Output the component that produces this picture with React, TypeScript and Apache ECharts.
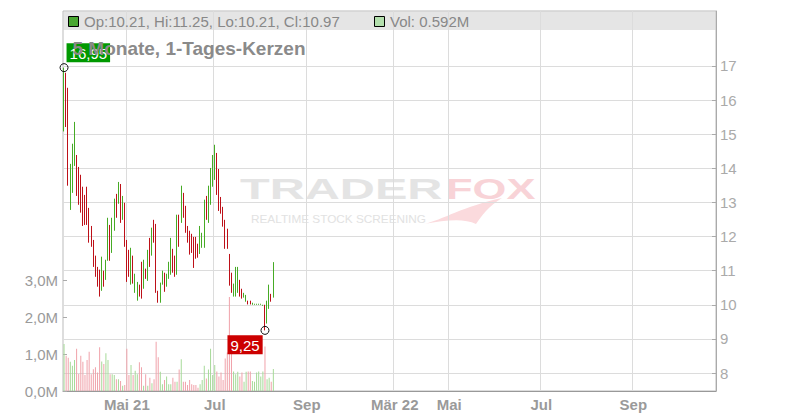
import React, { useEffect, useRef } from 'react';
import * as echarts from 'echarts';

// ---- data ----
const priceOpen = [
  15.30, 16.60, 16.10, 13.00, 13.50, 14.25, 14.25, 13.90, 13.70, 13.35,
  13.10, 13.30, 12.70, 12.20, 11.80, 11.35, 11.00, 10.95, 10.55, 10.90,
  10.80, 11.40, 12.25, 11.60, 12.25, 13.15, 13.05, 13.45, 12.55, 12.90,
  11.80, 11.50, 10.70, 11.35, 10.45, 10.20, 10.55, 11.15, 10.55, 11.00,
  10.80, 11.85, 11.55, 12.40, 12.25, 10.35, 10.15, 10.65, 10.90, 10.60,
  10.80, 10.95, 11.55, 11.35, 11.00, 12.55, 12.50, 13.20, 12.80, 12.25,
  12.10, 12.00, 11.90, 11.90, 11.75, 11.55, 11.75, 11.80, 13.10, 12.50,
  13.00, 13.55, 13.75, 14.35, 13.90, 13.10, 12.80, 12.40, 12.15, 11.40,
  10.85, 10.30, 10.30, 10.40, 10.65, 10.45, 10.22, 10.12, 10.10, 10.10,
  10.01, 10.00, 10.00, 10.00, 10.00, 9.98, 9.98, 9.50, 9.95, 10.30, 10.21,
];
const priceClose = [
  16.70, 15.40, 13.80, 13.95, 14.55, 15.20, 13.35, 13.05, 12.85, 12.45,
  12.45, 12.50, 11.95, 11.80, 11.20, 10.90, 10.60, 10.35, 11.30, 10.60,
  11.25, 12.45, 11.40, 12.45, 13.00, 12.65, 13.50, 12.50, 13.10, 11.80,
  10.80, 10.90, 11.55, 10.70, 10.85, 10.60, 10.30, 10.25, 11.25, 10.80,
  11.50, 11.20, 12.15, 11.90, 10.45, 10.10, 10.55, 10.95, 10.45, 10.85,
  11.20, 11.85, 11.00, 10.90, 12.50, 11.80, 13.40, 12.65, 12.20, 11.90,
  11.55, 11.60, 11.15, 11.40, 11.45, 12.25, 12.05, 12.95, 12.55, 13.40,
  13.90, 14.30, 14.60, 13.30, 12.85, 12.75, 12.35, 11.70, 11.70, 10.65,
  10.40, 10.55, 11.00, 11.00, 10.30, 10.20, 10.33, 10.26, 10.03, 10.02,
  10.05, 10.03, 10.03, 10.03, 10.03, 10.00, 9.40, 10.05, 10.50, 10.12, 10.97,
];
const priceLow = [
  15.08, 15.21, 13.49, 12.78, 13.28, 14.07, 13.19, 12.93, 12.70, 12.31,
  12.34, 12.34, 11.82, 11.70, 11.11, 10.82, 10.53, 10.24, 10.41, 10.53,
  10.73, 11.29, 11.29, 11.52, 12.17, 12.55, 12.96, 12.40, 12.49, 11.70,
  10.67, 10.82, 10.59, 10.62, 10.35, 10.12, 10.24, 10.18, 10.47, 10.76,
  10.70, 11.11, 11.44, 11.82, 10.35, 10.06, 10.06, 10.59, 10.38, 10.53,
  10.76, 10.88, 10.94, 10.82, 10.88, 11.70, 12.40, 12.55, 12.11, 11.82,
  11.47, 11.52, 11.08, 11.35, 11.38, 11.49, 11.67, 11.67, 12.49, 12.40,
  12.93, 13.46, 13.66, 13.22, 12.75, 12.67, 12.29, 11.64, 11.64, 10.56,
  10.35, 10.24, 10.24, 10.35, 10.24, 10.18, 10.21, 10.09, 10.01, 10.01,
  10.00, 10.00, 10.00, 10.00, 10.00, 9.97, 9.25, 9.45, 9.88, 10.09, 10.21,
];
const priceHigh = [
  16.95, 16.80, 16.36, 14.13, 14.72, 15.36, 14.39, 14.04, 13.81, 13.46,
  13.22, 13.46, 12.84, 12.31, 11.90, 11.44, 11.11, 11.03, 11.41, 11.00,
  11.32, 12.55, 12.34, 12.55, 13.11, 13.25, 13.60, 13.54, 13.19, 12.99,
  11.90, 11.61, 11.67, 11.44, 10.91, 10.67, 10.59, 11.26, 11.32, 11.06,
  11.61, 11.96, 12.26, 12.49, 12.37, 10.41, 10.65, 11.00, 10.94, 10.91,
  11.26, 11.96, 11.64, 11.44, 12.64, 12.64, 13.49, 13.28, 12.90, 12.31,
  12.17, 12.08, 11.99, 11.99, 11.79, 12.31, 12.11, 13.08, 13.19, 13.49,
  14.01, 14.39, 14.69, 14.45, 13.98, 13.16, 12.87, 12.49, 12.23, 11.49,
  10.94, 10.62, 11.11, 11.11, 10.73, 10.47, 10.35, 10.29, 10.12, 10.12,
  10.06, 10.03, 10.03, 10.03, 10.03, 10.00, 10.00, 10.12, 10.59, 10.32, 11.25,
];
// volume in millions
const volumeM = [
  1.27, 0.95, 0.90, 0.79, 0.68, 0.84, 1.14, 0.46, 0.95, 0.79,
  0.43, 0.84, 1.06, 0.45, 0.59, 0.64, 0.50, 1.18, 0.80, 0.73,
  1.02, 0.84, 0.45, 0.45, 0.43, 0.32, 0.32, 0.27, 0.14, 0.16,
  1.14, 0.43, 0.70, 0.43, 0.55, 0.45, 0.78, 0.64, 0.14, 0.45,
  0.14, 0.36, 0.21, 0.32, 1.33, 0.91, 0.52, 0.18, 0.30, 0.39,
  0.18, 0.18, 0.36, 0.25, 0.25, 0.58, 0.86, 0.25, 0.25, 0.16,
  0.30, 0.18, 0.16, 0.16, 0.09, 0.18, 0.30, 0.68, 0.34, 0.58,
  1.14, 0.43, 0.70, 0.53, 0.39, 0.50, 0.30, 0.88, 1.04, 2.54,
  1.00, 0.53, 0.45, 0.52, 0.39, 0.50, 0.25, 0.52, 0.53, 0.53,
  0.27, 0.25, 0.50, 0.53, 0.39, 0.53, 1.20, 0.32, 0.36, 0.25, 0.592,
];
// time axis: one slot per trading day incl. empty future slots
const slotCount = 312;
const timeLabels = ['Mai 21', 'Jul', 'Sep', 'Mär 22', 'Mai', 'Jul', 'Sep'];
const timeLabelSlots = [30, 72, 116, 158, 184, 228, 272];
const priceTicks = [8, 9, 10, 11, 12, 13, 14, 15, 16, 17];
const priceMin = 7.473;
const priceMax = 18.61;
const volumeTicksMax = 3;
const titleText = '5 Monate, 1-Tages-Kerzen';

const FONT = '"Liberation Sans", Arial, Helvetica, sans-serif';
const UP = '#46ab25';
const DOWN = '#bd1018';
const UP_VOL = '#a6da98';
const DOWN_VOL = '#f0a2aa';

export default function App() {
  const ref = useRef<HTMLDivElement>(null);
  useEffect(() => {
    if (!ref.current) return;
    const chart = echarts.init(ref.current, null, { renderer: 'svg' });

    echarts.graphic.registerShape(
      'foxTail',
      echarts.graphic.extendPath(
        'M0 26 C 18 22, 40 8, 78 0 C 64 9, 58 17, 52 26 C 40 20, 22 22, 0 26 Z',
        {}
      )
    );

    const categories = Array.from({ length: slotCount }, (_, i) => String(i));
    const labelAt: Record<number, string> = {};
    timeLabelSlots.forEach((s, k) => (labelAt[s] = timeLabels[k]));
    const isLabel = (index: number) => labelAt[index] !== undefined;

    const candles = priceOpen.map((o, i) => [o, priceClose[i], priceLow[i], priceHigh[i]]);
    const vols = volumeM.map((v, i) => ({
      value: v,
      itemStyle: { color: priceClose[i] >= priceOpen[i] ? UP_VOL : DOWN_VOL },
    }));

    const last = priceOpen.length - 1;
    const headerText = `Op:${priceOpen[last].toFixed(2)}, Hi:${priceHigh[last].toFixed(2)}, Lo:${priceLow[last].toFixed(2)}, Cl:${priceClose[last].toFixed(2)}`;
    const volText = `Vol: ${volumeM[last].toFixed(3)}M`;

    const fmtComma = (v: number) => Number(v).toFixed(2).replace('.', ',');

    chart.setOption({
      animation: false,
      textStyle: { fontFamily: FONT },
      grid: [
        { left: 63, right: 84, top: 11, bottom: 29, show: true, borderColor: '#bbb', borderWidth: 1, backgroundColor: 'transparent' },
        { left: 63, right: 84, top: 280, bottom: 29 },
      ],
      xAxis: [
        {
          type: 'category', gridIndex: 0, data: categories, boundaryGap: true,
          axisLine: { show: false }, axisTick: { show: false }, axisLabel: { show: false },
          splitLine: { show: true, interval: (i: number) => isLabel(i), lineStyle: { color: '#dcdcdc', width: 1 } },
        },
        {
          type: 'category', gridIndex: 1, data: categories, boundaryGap: true,
          axisLine: { show: true, lineStyle: { color: '#999', width: 1 } },
          axisTick: { show: false },
          splitLine: { show: false },
          axisLabel: {
            interval: (i: number) => isLabel(i),
            formatter: (_v: string, i: number) => labelAt[i] ?? '',
            color: '#9a9a9a', fontWeight: 'bold', fontSize: 15, margin: 6, fontFamily: FONT,
          },
        },
      ],
      yAxis: [
        {
          type: 'value', gridIndex: 0, position: 'right', min: priceMin, max: priceMax, scale: true,
          axisLine: { show: true, lineStyle: { color: '#aaa' } },
          axisTick: { show: true, inside: true, length: 4, lineStyle: { color: '#aaa' }, customValues: priceTicks },
          axisLabel: { color: '#aaa', fontSize: 15, margin: 4, fontFamily: FONT, customValues: priceTicks },
          splitLine: { show: true, lineStyle: { color: '#dcdcdc', width: 1 } },
        },
        {
          type: 'value', gridIndex: 1, position: 'left', min: 0, max: volumeTicksMax, interval: 1,
          axisLine: { show: false },
          axisTick: { show: true, inside: true, length: 4, lineStyle: { color: '#aaa' } },
          axisLabel: {
            color: '#9a9a9a', fontSize: 15, margin: 5, fontFamily: FONT,
            formatter: (v: number) => v.toFixed(1).replace('.', ',') + 'M',
          },
          splitLine: { show: false },
        },
      ],
      graphic: [
        { type: 'rect', z: -10, shape: { x: 63.5, y: 11.5, width: 652, height: 18.5 }, style: { fill: '#e5e5e5' } },
        // watermark
        { type: 'text', z: -5, x: 240, y: 189, scaleX: 1.62, style: { text: 'TRADER', x: 0, y: 0, font: `bold 30px ${FONT}`, fill: '#e4e4e4', verticalAlign: 'middle' } },
        { type: 'foxTail', z: -6, x: 424, y: 198, style: { fill: '#fbdadd' } },
        { type: 'text', z: -5, x: 446, y: 189, scaleX: 1.45, style: { text: 'FOX', x: 0, y: 0, font: `bold 30px ${FONT}`, fill: '#f8d3d7', verticalAlign: 'middle' } },
        { type: 'text', z: -5, x: 251, y: 219.5, scaleX: 1.18, style: { text: 'REALTIME STOCK SCREENING', x: 0, y: 0, font: `10px ${FONT}`, fill: '#e2e2e2', verticalAlign: 'middle' } },
        // header
        { type: 'rect', z: 100, shape: { x: 68.5, y: 16.5, width: 10, height: 10 }, style: { fill: '#4aa832', stroke: '#000', lineWidth: 1 } },
        { type: 'text', z: 100, x: 84, y: 21.5, style: { text: headerText, font: `15px ${FONT}`, fill: '#888', verticalAlign: 'middle' } },
        { type: 'rect', z: 100, shape: { x: 374.5, y: 16.5, width: 10, height: 10 }, style: { fill: '#b3dfad', stroke: '#000', lineWidth: 1 } },
        { type: 'text', z: 100, x: 390, y: 21.5, style: { text: volText, font: `15px ${FONT}`, fill: '#888', verticalAlign: 'middle' } },
        { type: 'text', z: 100, x: 72.5, y: 48.5, style: { text: titleText, font: `bold 19px ${FONT}`, fill: '#8a8a8a', verticalAlign: 'middle' } },
      ],
      series: [
        {
          type: 'candlestick', xAxisIndex: 0, yAxisIndex: 0, data: candles, barWidth: 1,
          itemStyle: { color: UP, color0: DOWN, borderColor: UP, borderColor0: DOWN, borderWidth: 1 },
          markPoint: {
            symbol: 'circle', symbolSize: 8, animation: false,
            itemStyle: { color: 'rgba(255,255,255,0)', borderColor: '#111', borderWidth: 1 },
            label: {
              show: true, color: '#fff', fontSize: 15, fontFamily: FONT, padding: [2, 3, 1, 3], lineHeight: 16,
              formatter: (p: any) => fmtComma(p.value),
            },
            data: [
              { type: 'max', valueDim: 'highest', label: { backgroundColor: '#009900', position: [7, -20] } },
              { type: 'min', valueDim: 'lowest', label: { backgroundColor: '#cc0000', position: [-33, 9.5] } },
            ],
          },
        },
        {
          type: 'bar', xAxisIndex: 1, yAxisIndex: 1, data: vols, barWidth: 1,
        },
      ],
    });
    return () => chart.dispose();
  }, []);
  return <div ref={ref} style={{ position: 'absolute', left: 0, top: 0, width: 800, height: 420 }} />;
}
